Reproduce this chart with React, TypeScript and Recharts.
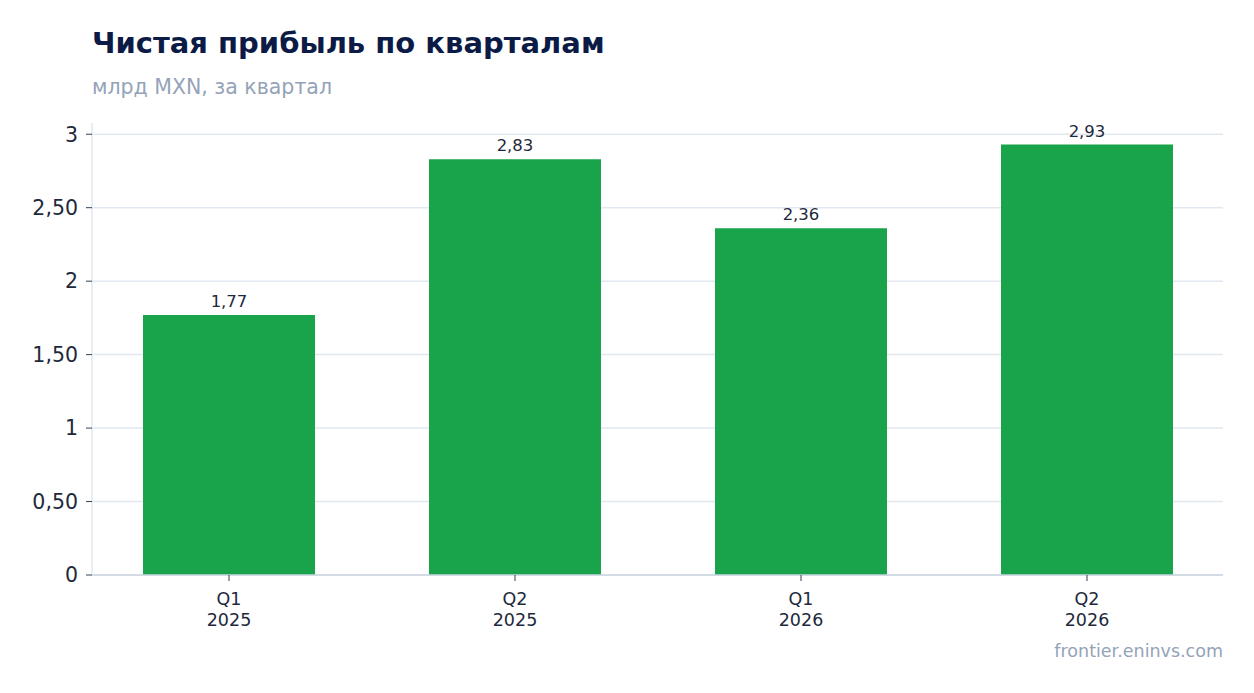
import { BarChart, Bar, XAxis, YAxis, CartesianGrid, LabelList } from "recharts";

const quarters = ["Q1", "Q2", "Q1", "Q2"];
const years = ["2025", "2025", "2026", "2026"];
const netProfit = [1.77, 2.83, 2.36, 2.93];
const yTicks = [0, 0.5, 1, 1.5, 2, 2.5, 3];

const data = quarters.map((q, i) => ({
  name: `${q} ${years[i]}`,
  q,
  year: years[i],
  value: netProfit[i],
}));

const FONT = "'DejaVu Sans', sans-serif";

const fmt = (v: number) => {
  const s = Number.isInteger(v) ? String(v) : v.toFixed(2);
  return s.replace(".", ",");
};

function QuarterTick(props: any) {
  const { x, y, payload, index } = props;
  return (
    <g transform={`translate(${x},${y})`}>
      <text textAnchor="middle" fill="#1e293b" fontSize={17.5} fontFamily={FONT}>
        <tspan x={0} dy={22}>{quarters[index] ?? payload.value}</tspan>
        <tspan x={0} dy={21}>{years[index]}</tspan>
      </text>
    </g>
  );
}

export default function App() {
  return (
    <div
      style={{
        position: "fixed",
        left: 0,
        top: 0,
        width: 1254,
        height: 693,
        background: "#fff",
        fontFamily: FONT,
      }}
    >
      <div
        style={{
          position: "absolute",
          left: 92,
          top: 26,
          fontSize: 29,
          fontWeight: 700,
          color: "#0b1b45",
          whiteSpace: "nowrap",
        }}
      >
        Чистая прибыль по кварталам
      </div>
      <div
        style={{
          position: "absolute",
          left: 92,
          top: 75,
          fontSize: 20.5,
          color: "#94a3b8",
          whiteSpace: "nowrap",
        }}
      >
        млрд MXN, за квартал
      </div>
      <BarChart
        width={1254}
        height={693}
        data={data}
        margin={{ top: 123, right: 31, bottom: 68, left: 32 }}
        style={{ position: "absolute", left: 0, top: 0 }}
      >
        <CartesianGrid
          vertical={false}
          horizontalValues={yTicks}
          stroke="#e2e8f0"
          strokeWidth={1.5}
        />
        <XAxis
          dataKey="name"
          height={50}
          tick={<QuarterTick />}
          tickLine={{ stroke: "#334155" }}
          tickSize={6}
          axisLine={{ stroke: "#cbd5e1", strokeWidth: 1.5 }}
          interval={0}
          padding={{ left: -6, right: -7 }}
        />
        <YAxis
          width={60}
          domain={[0, (max: number) => max * 1.05]}
          ticks={yTicks}
          tickFormatter={fmt}
          tick={{ fill: "#1e293b", fontSize: 20.5, fontFamily: FONT }}
          tickLine={{ stroke: "#334155" }}
          tickSize={6}
          tickMargin={8}
          axisLine={{ stroke: "#e2e8f0", strokeWidth: 1.5 }}
        />
        <Bar dataKey="value" fill="#19a34a" barSize={172} isAnimationActive={false}>
          <LabelList
            dataKey="value"
            position="top"
            offset={8}
            formatter={(v: any) => Number(v).toFixed(2).replace(".", ",")}
            style={{ fill: "#1e293b", fontSize: 16.5, fontFamily: FONT }}
          />
        </Bar>
      </BarChart>
      <div
        style={{
          position: "absolute",
          right: 31,
          top: 641,
          fontSize: 17.5,
          color: "#94a3b8",
          whiteSpace: "nowrap",
        }}
      >
        frontier.eninvs.com
      </div>
    </div>
  );
}
